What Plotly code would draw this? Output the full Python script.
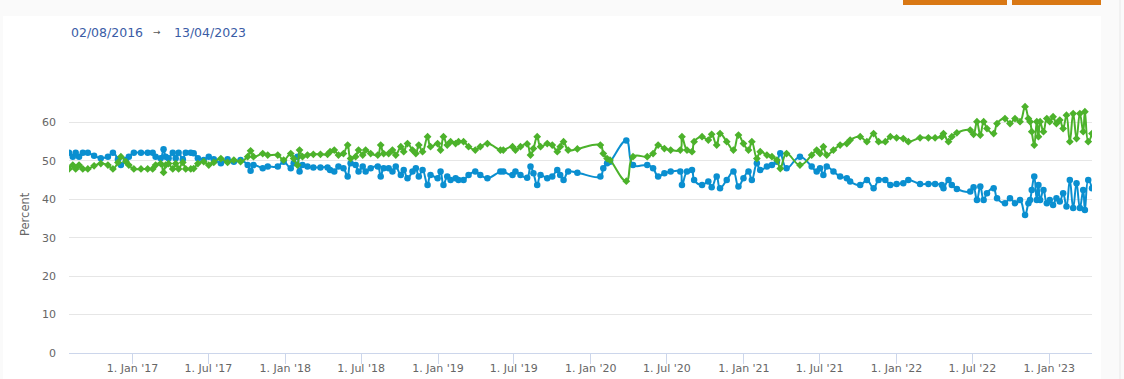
import plotly.graph_objects as go

# ---- data ----
dates = [
    "2016-08-02", "2016-08-11", "2016-08-18", "2016-08-26", "2016-09-04", "2016-09-16", "2016-10-01",
    "2016-10-17", "2016-11-03", "2016-11-15", "2016-11-27", "2016-12-04", "2016-12-16", "2016-12-23",
    "2017-01-04", "2017-01-21", "2017-02-06", "2017-02-18", "2017-02-25", "2017-03-09", "2017-03-16",
    "2017-03-21", "2017-03-28", "2017-04-07", "2017-04-14", "2017-04-21", "2017-05-01", "2017-05-08",
    "2017-05-20", "2017-05-27", "2017-06-06", "2017-06-20", "2017-07-02", "2017-07-14", "2017-07-31",
    "2017-08-16", "2017-08-31", "2017-09-16", "2017-10-03", "2017-10-10", "2017-10-17", "2017-11-08",
    "2017-11-20", "2017-12-14", "2017-12-28",
    "2018-01-14", "2018-01-21", "2018-01-30", "2018-02-04", "2018-02-11", "2018-02-23", "2018-03-09",
    "2018-03-26", "2018-04-12", "2018-04-18", "2018-04-28", "2018-05-08", "2018-05-20", "2018-05-30",
    "2018-06-06", "2018-06-18", "2018-06-25", "2018-07-05", "2018-07-12", "2018-07-24", "2018-08-10",
    "2018-08-17", "2018-08-24", "2018-09-05", "2018-09-14", "2018-09-22", "2018-10-04", "2018-10-11",
    "2018-10-20", "2018-11-01", "2018-11-09", "2018-11-16", "2018-11-25", "2018-12-07", "2018-12-14",
    "2018-12-31",
    "2019-01-07", "2019-01-14", "2019-01-23", "2019-01-31", "2019-02-12", "2019-02-19", "2019-03-03",
    "2019-03-15", "2019-03-31", "2019-04-12", "2019-04-29", "2019-05-30", "2019-06-06", "2019-06-28",
    "2019-07-05", "2019-07-17", "2019-08-02", "2019-08-10", "2019-08-17", "2019-08-26", "2019-09-03",
    "2019-09-19", "2019-10-01", "2019-10-13", "2019-10-20", "2019-10-28", "2019-11-08", "2019-11-30",
    "2020-01-24", "2020-01-31", "2020-02-09", "2020-02-16", "2020-03-26", "2020-04-11", "2020-05-15",
    "2020-05-29", "2020-06-10", "2020-06-25", "2020-07-10", "2020-08-02", "2020-08-06", "2020-08-18",
    "2020-08-30", "2020-09-04", "2020-09-23", "2020-10-08", "2020-10-16", "2020-10-28", "2020-11-05",
    "2020-11-21", "2020-12-07", "2020-12-19", "2020-12-31",
    "2021-01-12", "2021-01-20", "2021-02-01", "2021-02-09", "2021-02-25", "2021-03-09", "2021-03-21",
    "2021-03-29", "2021-04-13", "2021-05-15", "2021-06-12", "2021-06-24", "2021-07-02", "2021-07-10",
    "2021-07-18", "2021-08-03", "2021-08-19", "2021-09-04", "2021-09-12", "2021-10-06", "2021-10-22",
    "2021-11-07", "2021-11-19", "2021-12-05", "2021-12-17",
    "2022-01-01", "2022-01-17", "2022-01-29", "2022-02-26", "2022-03-18", "2022-04-03", "2022-04-19",
    "2022-04-23", "2022-05-05", "2022-05-13", "2022-05-25", "2022-06-26", "2022-07-04", "2022-07-12",
    "2022-07-20", "2022-07-28", "2022-08-05", "2022-08-21", "2022-08-29", "2022-09-17", "2022-09-29",
    "2022-10-11", "2022-10-23", "2022-11-04", "2022-11-12", "2022-11-16", "2022-11-20", "2022-11-26",
    "2022-12-02", "2022-12-06", "2022-12-10", "2022-12-18", "2022-12-26",
    "2023-01-02", "2023-01-10", "2023-01-18", "2023-01-26", "2023-02-03", "2023-02-11", "2023-02-19",
    "2023-02-27", "2023-03-07", "2023-03-15", "2023-03-23", "2023-03-27", "2023-04-04", "2023-04-13",
]

blue_values = [
    52.1, 51.1, 52.1, 51.1, 52.1, 52.1, 51.3, 50.7, 51.1, 52.1, 50.4, 48.9, 50.2, 51.1,
    52.1, 52.1, 52.1, 52.1, 51.1, 50.7, 53.0, 51.1, 50.7, 52.1, 50.7, 52.1, 50.4, 52.1,
    52.1, 52.0, 50.7, 50.2, 51.1, 50.4, 49.4, 50.4, 49.8, 50.2, 48.9, 47.4, 48.9, 48.1,
    48.5, 48.5, 49.8,
    48.1, 49.4, 51.1, 47.2, 48.9, 48.5, 48.3, 48.3, 48.3, 47.6, 47.2, 48.5, 48.1, 45.9,
    49.4, 48.9, 47.2, 48.5, 47.2, 48.1, 48.5, 45.9, 48.1, 48.1, 47.2, 48.5, 46.3, 47.6,
    45.5, 47.2, 48.1, 45.9, 47.6, 43.7, 46.3, 45.5,
    47.2, 43.7, 45.9, 45.0, 45.5, 45.0, 45.0, 46.3, 47.2, 46.3, 45.5, 47.2, 47.2, 46.3,
    47.2, 46.3, 45.6, 48.5, 46.8, 43.7, 46.3, 45.5, 45.9, 47.6, 46.3, 45.0, 47.2, 46.9,
    45.9, 48.1, 49.4, 49.8, 55.3, 48.9, 48.9, 48.1, 45.9, 46.8, 47.2, 47.2, 43.7, 47.2,
    47.6, 45.0, 43.7, 44.6, 43.1, 45.9, 42.9, 45.0, 47.2, 43.3, 45.5,
    47.2, 45.0, 49.4, 47.6, 48.5, 48.9, 49.8, 52.0, 48.1, 51.1, 48.5, 47.2, 48.1, 46.3,
    48.5, 47.2, 45.9, 45.5, 44.6, 43.7, 45.0, 42.9, 45.0, 45.0, 43.7,
    44.0, 44.2, 45.0, 44.0, 44.0, 44.0, 43.7, 42.9, 45.0, 43.7, 42.7, 42.0, 43.1, 39.8,
    43.3, 39.8, 41.6, 42.9, 40.3, 39.0, 40.3, 39.0, 39.8, 35.9, 39.0, 39.8, 42.4, 45.9,
    39.8, 43.7, 39.8, 42.4, 39.0,
    39.8, 38.5, 40.3, 39.4, 41.6, 38.1, 45.0, 37.7, 44.2, 37.7, 42.4, 37.2, 45.0, 42.9,
]

green_values = [
    47.9, 48.9, 47.9, 48.9, 47.9, 47.9, 48.7, 49.3, 48.9, 47.9, 49.6, 51.1, 49.8, 48.9,
    47.9, 47.9, 47.9, 47.9, 48.9, 49.3, 47.0, 48.9, 49.3, 47.9, 49.3, 47.9, 49.6, 47.9,
    47.9, 48.0, 49.3, 49.8, 48.9, 49.6, 50.6, 49.6, 50.2, 49.8, 51.1, 52.6, 51.1, 51.9,
    51.5, 51.5, 50.2,
    51.9, 50.6, 48.9, 52.8, 51.1, 51.5, 51.7, 51.7, 51.7, 52.4, 52.8, 51.5, 51.9, 54.1,
    50.6, 51.1, 52.8, 51.5, 52.8, 51.9, 51.5, 54.1, 51.9, 51.9, 52.8, 51.5, 53.7, 52.4,
    54.5, 52.8, 51.9, 54.1, 52.4, 56.3, 53.7, 54.5,
    52.8, 56.3, 54.1, 55.0, 54.5, 55.0, 55.0, 53.7, 52.8, 53.7, 54.5, 52.8, 52.8, 53.7,
    52.8, 53.7, 54.4, 51.5, 53.2, 56.3, 53.7, 54.5, 54.1, 52.4, 53.7, 55.0, 52.8, 53.1,
    54.1, 51.9, 50.6, 50.2, 44.7, 51.1, 51.1, 51.9, 54.1, 53.2, 52.8, 52.8, 56.3, 52.8,
    52.4, 55.0, 56.3, 55.4, 56.9, 54.1, 57.1, 55.0, 52.8, 56.7, 54.5,
    52.8, 55.0, 50.6, 52.4, 51.5, 51.1, 50.2, 48.0, 51.9, 48.9, 51.5, 52.8, 51.9, 53.7,
    51.5, 52.8, 54.1, 54.5, 55.4, 56.3, 55.0, 57.1, 55.0, 55.0, 56.3,
    56.0, 55.8, 55.0, 56.0, 56.0, 56.0, 56.3, 57.1, 55.0, 56.3, 57.3, 58.0, 56.9, 60.2,
    56.7, 60.2, 58.4, 57.1, 59.7, 61.0, 59.7, 61.0, 60.2, 64.1, 61.0, 60.2, 57.6, 54.1,
    60.2, 56.3, 60.2, 57.6, 61.0,
    60.2, 61.5, 59.7, 60.6, 58.4, 61.9, 55.0, 62.3, 55.8, 62.3, 57.6, 62.8, 55.0, 57.1,
]

y_ticks = [0, 10, 20, 30, 40, 50, 60, 70]
y_tick_text = ["0", "10", "20", "30", "40", "50", "60", ""]
range_start_label = "02/08/2016"
range_end_label = "13/04/2023"

assert len(dates) == len(blue_values) == len(green_values)

BLUE = "#0a8fd0"
GREEN = "#4cb22b"
FONT = "DejaVu Sans"

W, H = 1124, 379
L, R, T, B = 69, 32, 84, 26
PW, PH = W - L - R, H - T - B


def px(x):
    return (x - L) / PW


def py(y):
    return (H - B - y) / PH


fig = go.Figure()
fig.add_trace(go.Scatter(
    x=dates, y=blue_values, mode="lines+markers",
    line=dict(color=BLUE, width=2, shape="spline", smoothing=1.2),
    marker=dict(symbol="circle", size=6.5, color=BLUE),
    showlegend=False,
))
fig.add_trace(go.Scatter(
    x=dates, y=green_values, mode="lines+markers",
    line=dict(color=GREEN, width=2, shape="spline", smoothing=1.2),
    marker=dict(symbol="diamond", size=6, color=GREEN),
    showlegend=False,
))

shapes = [
    # white content panel
    dict(type="rect", xref="paper", yref="paper", x0=px(3), x1=px(1101), y0=py(400), y1=py(16),
         fillcolor="white", line=dict(width=0), layer="below"),
    # orange buttons at top
    dict(type="rect", xref="paper", yref="paper", x0=px(903), x1=px(1007), y0=py(5), y1=py(0),
         fillcolor="#d97814", line=dict(width=0), layer="below"),
    dict(type="rect", xref="paper", yref="paper", x0=px(1012), x1=px(1101), y0=py(5), y1=py(0),
         fillcolor="#d97814", line=dict(width=0), layer="below"),
    # faint right strip
    dict(type="rect", xref="paper", yref="paper", x0=px(1119), x1=px(1121), y0=py(400), y1=py(0),
         fillcolor="#f1f1f1", line=dict(width=0), layer="below"),
]

annotations = [
    dict(xref="paper", yref="paper", x=px(69), y=py(32), xanchor="left", yanchor="middle",
         text=range_start_label, showarrow=False, font=dict(family=FONT, size=12.5, color="#3a5ca6")),
    dict(xref="paper", yref="paper", x=px(157), y=py(32), xanchor="center", yanchor="middle",
         text="→", showarrow=False, font=dict(family=FONT, size=9, color="#555555")),
    dict(xref="paper", yref="paper", x=px(172), y=py(32), xanchor="left", yanchor="middle",
         text=range_end_label, showarrow=False, font=dict(family=FONT, size=12.5, color="#3a5ca6")),
    dict(xref="paper", yref="paper", x=px(25), y=py(214), xanchor="center", yanchor="middle",
         text="Percent", textangle=-90, showarrow=False,
         font=dict(family=FONT, size=11.5, color="#666666")),
]

fig.update_layout(
    width=W, height=H,
    margin=dict(l=L, r=R, t=T, b=B, pad=0, autoexpand=False),
    paper_bgcolor="#fafafa",
    plot_bgcolor="white",
    font=dict(family=FONT, color="#666666"),
    shapes=shapes,
    annotations=annotations,
    xaxis=dict(
        type="date",
        automargin=False,
        range=["2016-08-02", "2023-04-13"],
        tick0="2017-01-01", dtick="M6",
        tickformat="%-d. %b '%y",
        showgrid=False, zeroline=False,
        showline=True, linecolor="#ccd6eb", linewidth=1,
        ticks="outside", ticklen=10, tickcolor="#ccd6eb", tickwidth=1,
        ticklabelstandoff=-5,
        tickfont=dict(family=FONT, size=11, color="#666666"),
    ),
    yaxis=dict(
        automargin=False,
        range=[0, 70],
        tickvals=y_ticks, ticktext=y_tick_text,
        showgrid=True, gridcolor="#e6e6e6", gridwidth=1,
        zeroline=False, showline=False, ticks="",
        ticklabelstandoff=12,
        tickfont=dict(family=FONT, size=11, color="#666666"),
    ),
)

fig.write_html(
    "out.html",
    config={"displayModeBar": False},
    post_script="document.body.style.margin='0';document.body.style.background='#fafafa';",
)
